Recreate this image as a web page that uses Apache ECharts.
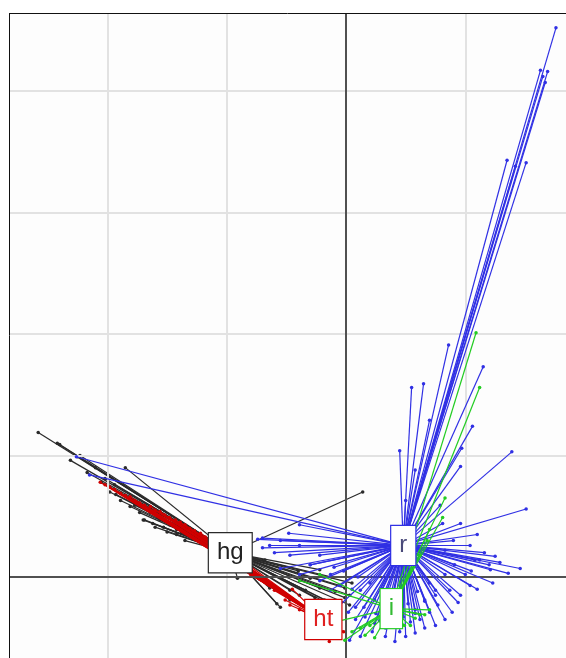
<!DOCTYPE html>
<html>
<head>
<meta charset="utf-8">
<script src="https://cdn.jsdelivr.net/npm/echarts@6/dist/echarts.min.js"></script>
<style>
  html, body { margin: 0; padding: 0; background: #ffffff; }
  #chart { width: 566px; height: 658px; }
</style>
</head>
<body>
<div id="chart"></div>
<script>
// Factor map star plot: each group's scores joined to the group centroid.
const groupNames = ['hg', 'ht', 'i', 'r'];

const centroidHg = [-0.97, 0.20];
const centroidHt = [-0.19, -0.35];
const centroidI  = [0.38, -0.26];
const centroidR  = [0.48, 0.26];

const pointsHg = [
  [-2.58, 1.19], [-2.42, 1.10], [-2.31, 0.96], [-2.25, 0.99], [-2.17, 0.86],
  [-2.05, 0.78], [-1.98, 0.70], [-1.93, 0.68], [-1.89, 0.63], [-1.85, 0.90],
  [-1.81, 0.58], [-1.77, 0.60], [-1.73, 0.53], [-1.69, 0.47], [-1.66, 0.55],
  [-1.62, 0.44], [-1.58, 0.49], [-1.53, 0.41], [-1.47, 0.43], [-1.42, 0.39],
  [-1.38, 0.36], [-1.33, 0.35], [-1.28, 0.31],
  [-2.40, 1.09], [-2.23, 1.00], [-2.10, 0.90], [-2.02, 0.81], [-1.94, 0.76],
  [-1.85, 0.67], [-1.77, 0.59], [-1.64, 0.53], [-1.56, 0.47], [-1.48, 0.43],
  [-1.70, 0.47], [-1.60, 0.41], [-1.50, 0.37], [-1.42, 0.35], [-1.35, 0.30],
  [-1.27, 0.33],
  [0.14, 0.70], [-1.12, 0.20], [-0.91, -0.01], [-0.55, -0.25], [-0.58, -0.22],
  [-0.47, -0.19], [-0.34, -0.11], [-0.22, -0.09], [-0.09, -0.12], [-0.01, -0.17],
  [-0.05, -0.07], [-0.30, -0.01], [-0.18, -0.19], [0.03, -0.23], [-0.68, 0.14],
  [-0.40, 0.05], [-0.12, 0.00], [0.05, -0.05], [-0.39, -0.15], [-0.26, -0.17],
  [-0.13, -0.21], [-0.07, -0.26], [-0.47, -0.11], [-0.64, -0.09], [-0.72, -0.02],
  [-0.22, 0.06], [-0.01, -0.09], [0.03, -0.15]
];

const pointsHt = [
  [-2.06, 0.78], [-2.02, 0.76], [-1.98, 0.74], [-1.94, 0.72], [-1.89, 0.69],
  [-1.85, 0.67], [-1.81, 0.66], [-1.77, 0.63], [-1.73, 0.61], [-1.69, 0.59],
  [-1.64, 0.58], [-1.60, 0.55], [-1.56, 0.54], [-1.52, 0.51], [-1.48, 0.49],
  [-1.43, 0.47], [-1.39, 0.45], [-1.35, 0.43], [-1.31, 0.40], [-1.27, 0.38],
  [-1.22, 0.36], [-1.18, 0.33], [-1.10, 0.30],
  [-0.76, 0.02], [-0.64, -0.07], [-0.51, -0.19], [-0.39, -0.27], [-0.14, -0.53],
  [-0.05, -0.40], [-0.02, -0.45], [-0.45, -0.10], [-0.30, -0.20], [-0.68, -0.01],
  [-0.60, -0.11], [-0.47, -0.23], [-0.80, 0.02]
];

const pointsI = [
  [1.09, 2.01], [1.12, 1.56], [0.83, 0.65], [0.81, 0.49], [0.70, 0.39],
  [0.62, 0.18], [-0.01, -0.52], [0.05, -0.45], [0.12, -0.42], [0.20, -0.40],
  [0.58, -0.34], [0.66, -0.31], [0.70, -0.27], [0.49, -0.40], [-0.22, 0.02],
  [-0.39, -0.03], [-0.09, -0.37], [0.68, 0.30], [0.16, -0.48], [0.24, -0.50],
  [0.54, -0.40], [0.62, -0.31]
];

const pointsR = [
  [1.76, 4.52], [1.63, 4.17], [1.65, 4.12], [1.67, 4.07], [1.35, 3.43],
  [1.51, 3.41], [0.86, 1.91], [1.15, 1.73], [0.55, 1.56], [0.65, 1.59],
  [0.45, 1.04], [1.06, 1.24], [0.97, 1.06], [0.96, 0.91], [1.39, 1.03],
  [1.51, 0.56], [0.96, 0.44], [0.81, 0.44], [1.16, 0.20], [1.46, 0.07],
  [1.36, 0.03], [1.23, -0.05], [1.10, -0.10], [0.94, -0.21], [0.77, -0.23],
  [0.70, -0.29], [1.04, 0.26], [1.12, 0.14], [1.29, 0.12], [0.91, 0.10],
  [1.00, 0.02], [0.87, -0.11], [0.62, -0.35], [0.54, -0.37], [0.44, -0.40],
  [0.33, -0.42], [0.22, -0.45], [0.12, -0.49], [0.03, -0.52], [0.08, -0.35],
  [-0.05, -0.23], [-0.13, -0.11], [-0.22, -0.03], [-0.39, 0.02], [-0.55, 0.07],
  [-0.70, 0.24], [-0.74, 0.31], [-2.26, 0.99], [-2.15, 0.84], [0.79, 0.59],
  [0.70, 1.29], [0.58, 0.88], [0.50, 0.63], [0.75, -0.15], [0.66, -0.20],
  [0.58, -0.30], [0.48, -0.33], [0.40, -0.30], [0.25, -0.30], [0.15, -0.25],
  [0.05, -0.10], [-0.02, 0.05], [-0.30, 0.10], [-0.60, 0.20], [-0.39, 0.43],
  [-0.48, 0.36], [1.25, 0.17], [1.20, 0.10], [1.05, 0.05], [0.83, 0.22],
  [1.69, 4.16], [1.42, 3.38],
  [0.02, -0.29], [0.08, -0.25], [0.16, -0.33], [0.24, -0.38], [0.33, -0.49],
  [0.41, -0.53], [0.50, -0.49], [0.58, -0.46], [0.66, -0.42], [0.75, -0.40],
  [0.83, -0.35], [0.89, -0.29], [0.12, -0.11], [-0.05, -0.07], [-0.13, 0.02],
  [-0.30, 0.10], [-0.47, 0.18], [-0.64, 0.26], [-0.39, 0.26], [-0.22, 0.18],
  [0.83, 0.02], [0.75, -0.11], [0.66, -0.19], [0.58, -0.27], [0.37, -0.27],
  [0.24, -0.19], [1.08, 0.14], [1.21, 0.06], [1.04, -0.07], [0.96, -0.15],
  [0.30, -0.10], [0.36, -0.20], [0.44, -0.25], [0.52, -0.22], [0.60, -0.12],
  [0.20, -0.05], [0.10, 0.00], [-0.10, 0.08], [-0.55, 0.30], [-0.70, 0.32],
  [0.45, -0.45], [0.28, -0.36], [0.70, -0.05], [0.90, 0.30], [1.10, 0.35]
];

const gridX = [-2, -1, 1];
const gridY = [1, 2, 3, 4];

// Visible window of the factor map
const xMin = -2.8248, xMax = 1.8441;
const yMin = -0.6667, yMax = 4.642;

const groups = [
  { name: 'hg', centre: centroidHg, points: pointsHg, line: '#2a2a2a', text: '#222222' },
  { name: 'ht', centre: centroidHt, points: pointsHt, line: '#d00000', text: '#e02020' },
  { name: 'r',  centre: centroidR,  points: pointsR,  line: '#3030e4', text: '#4a4a7a' },
  { name: 'i',  centre: centroidI,  points: pointsI,  line: '#22cc22', text: '#33bb33' }
];

const chart = echarts.init(document.getElementById('chart'), null, { renderer: 'canvas' });

const series = [];

function refLines(values, color, width, z) {
  return {
    type: 'scatter',
    data: [],
    silent: true,
    z: z,
    markLine: {
      silent: true,
      symbol: 'none',
      animation: false,
      label: { show: false },
      lineStyle: { color: color, width: width, type: 'solid', opacity: 1 },
      data: values
    }
  };
}

// Reference grid, the two zero axes, and the top/left frame
series.push(refLines(gridX.map(v => ({ xAxis: v })).concat(gridY.map(v => ({ yAxis: v }))), '#e2e2e2', 2, 1));
series.push(refLines([{ xAxis: 0 }, { yAxis: 0 }], '#505050', 2, 2));
series.push(refLines([{ xAxis: xMin }, { yAxis: yMax }], '#111111', 1, 2));

// Stars: one segment per observation, plus a dot at its end
groups.forEach((g, k) => {
  series.push({
    type: 'lines',
    coordinateSystem: 'cartesian2d',
    silent: true,
    z: 3 + k,
    lineStyle: { color: g.line, width: 1.2, opacity: 1 },
    data: g.points.map(p => ({ coords: [g.centre, p] }))
  });
  series.push({
    type: 'scatter',
    silent: true,
    z: 3 + k,
    symbol: 'circle',
    symbolSize: 3.5,
    itemStyle: { color: g.line, opacity: 1 },
    data: g.points
  });
});

// Group labels boxed at the centroids
groups.forEach(g => {
  series.push({
    type: 'scatter',
    silent: true,
    z: 20,
    symbolSize: 1,
    itemStyle: { color: '#ffffff', opacity: 1 },
    data: [{ value: g.centre, name: g.name }],
    label: {
      show: true,
      position: 'inside',
      formatter: '{b}',
      fontFamily: 'Liberation Sans, Arial, sans-serif',
      fontSize: 24,
      color: g.text,
      opacity: 1,
      backgroundColor: '#ffffff',
      borderColor: g.line,
      borderWidth: 1.2,
      padding: [7, 8, 6, 8],
      lineHeight: 26
    },
    emphasis: { disabled: true }
  });
});

chart.setOption({
  animation: false,
  backgroundColor: '#ffffff',
  grid: {
    left: 9, top: 13, right: 0, bottom: 0,
    outerBoundsMode: 'none',
    show: true,
    borderWidth: 0,
    backgroundColor: '#fdfdfd'
  },
  xAxis: {
    type: 'value',
    min: xMin, max: xMax,
    show: false
  },
  yAxis: {
    type: 'value',
    min: yMin, max: yMax,
    show: false
  },
  series: series
});
</script>
</body>
</html>
